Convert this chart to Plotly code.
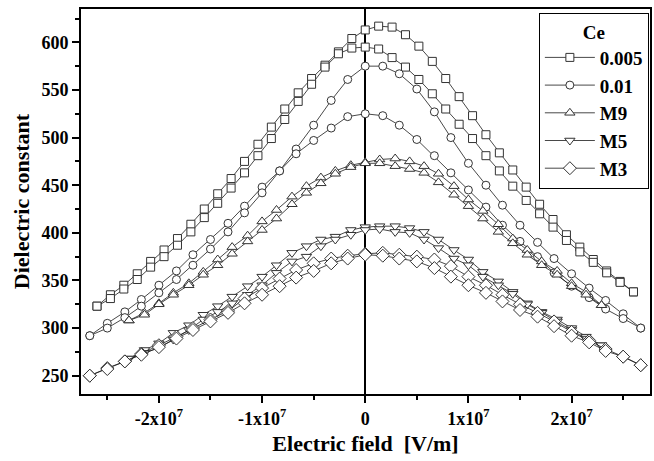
import plotly.graph_objects as go

# Electric field values (units of 1e7 V/m), one list per sampling grid
x_sq = [-2.60, -2.47, -2.34, -2.21, -2.08, -1.95, -1.82, -1.69, -1.56, -1.43, -1.30, -1.17, -1.04, -0.91,
        -0.78, -0.65, -0.52, -0.39, -0.26, -0.13, 0.0, 0.13, 0.26, 0.39, 0.52, 0.65, 0.78, 0.91, 1.04,
        1.17, 1.30, 1.43, 1.56, 1.69, 1.82, 1.95, 2.08, 2.21, 2.34, 2.47, 2.60]
x_ci = [-2.67, -2.50, -2.33, -2.17, -2.00, -1.83, -1.67, -1.50, -1.33, -1.17, -1.00, -0.83, -0.67, -0.50,
        -0.33, -0.17, 0.0, 0.17, 0.33, 0.50, 0.67, 0.83, 1.00, 1.17, 1.33, 1.50, 1.67, 1.83, 2.00, 2.17,
        2.33, 2.50, 2.67]
x_tr = [-2.29, -2.14, -2.00, -1.86, -1.71, -1.57, -1.43, -1.29, -1.14, -1.00, -0.86, -0.71, -0.57, -0.43,
        -0.29, -0.14, 0.0, 0.14, 0.29, 0.43, 0.57, 0.71, 0.86, 1.00, 1.14, 1.29, 1.43, 1.57, 1.71, 1.86,
        2.00, 2.14, 2.29]

# Ce = 0.005 (squares): two sweep branches
ce005_a = [323, 335, 345, 357, 370, 382, 394, 409, 425, 441, 457, 475, 493, 511, 530, 547, 562, 576, 590, 604,
           613, 617, 616, 608, 596, 580, 562, 543, 523, 503, 484, 466, 448, 430, 414, 398, 385, 372, 360, 349, 338]
ce005_b = [323, 331, 341, 351, 364, 375, 387, 401, 416, 431, 447, 463, 481, 499, 519, 538, 556, 574, 588, 594,
           595, 593, 584, 574, 561, 546, 530, 514, 499, 481, 465, 449, 434, 420, 406, 392, 380, 369, 358, 348, 338]
# Ce = 0.01 (circles)
ce01_a = [292, 305, 317, 330, 345, 360, 377, 393, 410, 428, 448, 465, 488, 513, 539, 561, 575,
          575, 567, 551, 527, 500, 473, 450, 429, 408, 390, 373, 357, 342, 329, 315, 300]
ce01_b = [292, 300, 311, 323, 337, 351, 366, 383, 401, 421, 442, 465, 483, 497, 510, 522, 525,
          523, 513, 498, 481, 463, 445, 427, 408, 391, 375, 358, 344, 332, 320, 310, 300]
# M9 (up triangles)
m9_a = [308, 316, 326, 337, 347, 359, 372, 385, 397, 412, 424, 438, 449, 458, 465, 471, 474,
        477, 478, 475, 470, 462, 449, 435, 423, 409, 394, 382, 370, 360, 347, 338, 324]
m9_b = [308, 314, 325, 335, 345, 356, 366, 378, 391, 403, 415, 430, 442, 452, 462, 469, 473,
        473, 470, 467, 463, 453, 440, 428, 415, 401, 389, 377, 366, 356, 344, 335, 324]
# M5 (down triangles)
m5_a = [268, 277, 284, 295, 303, 314, 323, 333, 344, 354, 366, 379, 386, 393, 396, 403, 406,
        407, 407, 405, 401, 393, 382, 372, 359, 349, 338, 326, 317, 309, 300, 291, 282]
m5_b = [268, 274, 279, 288, 298, 309, 317, 326, 335, 345, 358, 370, 375, 386, 393, 398, 403,
        404, 401, 400, 393, 384, 373, 366, 354, 345, 336, 325, 316, 307, 298, 289, 282]
# M3 (diamonds)
m3_a = [250, 258, 265, 273, 282, 291, 300, 309, 318, 331, 342, 352, 361, 368, 373, 376, 378,
        379, 377, 375, 372, 365, 354, 345, 335, 325, 316, 307, 296, 287, 278, 270, 261]
m3_b = [250, 257, 265, 272, 280, 289, 298, 307, 316, 326, 335, 344, 353, 360, 368, 373, 377,
        376, 373, 370, 363, 354, 345, 337, 328, 319, 312, 302, 292, 285, 276, 270, 261]

series_names = ["0.005", "0.01", "M9", "M5", "M3"]
series_x = [x_sq, x_ci, x_tr, x_tr, x_ci]
series_a = [ce005_a, ce01_a, m9_a, m5_a, m3_a]
series_b = [ce005_b, ce01_b, m9_b, m5_b, m3_b]
symbols = ["square", "circle", "triangle-up", "triangle-down", "diamond"]
sizes = [8, 8, 9, 9, 10]

x_tickvals = [-2e7, -1e7, 0, 1e7, 2e7]
x_ticktext = ["-2x10<sup>7</sup>", "-1x10<sup>7</sup>", "0", "1x10<sup>7</sup>", "2x10<sup>7</sup>"]
y_tickvals = [250, 300, 350, 400, 450, 500, 550, 600]

fig = go.Figure()
for name, xs, ya, yb, sym, sz in zip(series_names, series_x, series_a, series_b, symbols, sizes):
    xv = [v * 1e7 for v in xs]
    fig.add_trace(go.Scatter(
        x=xv + xv[::-1], y=ya + yb[::-1], name=name, mode="lines+markers",
        line=dict(color="#1a1a1a", width=0.8),
        marker=dict(symbol=sym, size=sz, color="white",
                    line=dict(color="#333333", width=1)),
    ))

font_family = "Liberation Serif, Times New Roman, serif"
fig.update_layout(
    width=654, height=461,
    margin=dict(l=81, r=2, t=9, b=67),
    paper_bgcolor="white", plot_bgcolor="white",
    font=dict(family=font_family, color="black", size=18, weight=700),
    showlegend=True,
    legend=dict(
        title=dict(text="Ce", side="top center", font=dict(size=19, family=font_family, weight=700)),
        x=0.998, xanchor="right", y=0.99, yanchor="top",
        bordercolor="black", borderwidth=1, bgcolor="white",
        font=dict(size=19, family=font_family, weight=700),
        tracegroupgap=0, itemwidth=50,
    ),
    xaxis=dict(
        range=[-2.755e7, 2.76e7], tickmode="array", tickvals=x_tickvals, ticktext=x_ticktext,
        ticks="outside", ticklen=7, tickwidth=1.5, tickcolor="black",
        minor=dict(tickvals=[-2.5e7, -1.5e7, -0.5e7, 0.5e7, 1.5e7, 2.5e7], ticks="outside",
                   ticklen=4, tickwidth=1.5, tickcolor="black"),
        showline=True, linecolor="black", linewidth=2, mirror=True, showgrid=False,
        zeroline=True, zerolinecolor="black", zerolinewidth=1.5,
        tickfont=dict(size=18, family=font_family, weight=700),
        title=dict(text="Electric field  [V/m]", font=dict(size=22, family=font_family, weight=700), standoff=8),
    ),
    yaxis=dict(
        range=[230.8, 635], tickmode="array", tickvals=y_tickvals,
        ticks="outside", ticklen=7, tickwidth=1.5, tickcolor="black",
        minor=dict(tickvals=[275, 325, 375, 425, 475, 525, 575, 625], ticks="outside",
                   ticklen=4, tickwidth=1.5, tickcolor="black"),
        showline=True, linecolor="black", linewidth=2, mirror=True, showgrid=False, zeroline=False,
        tickfont=dict(size=18, family=font_family, weight=700),
        title=dict(text="Dielectric constant", font=dict(size=22, family=font_family, weight=700), standoff=6),
    ),
)

fig.write_html("out.html")
